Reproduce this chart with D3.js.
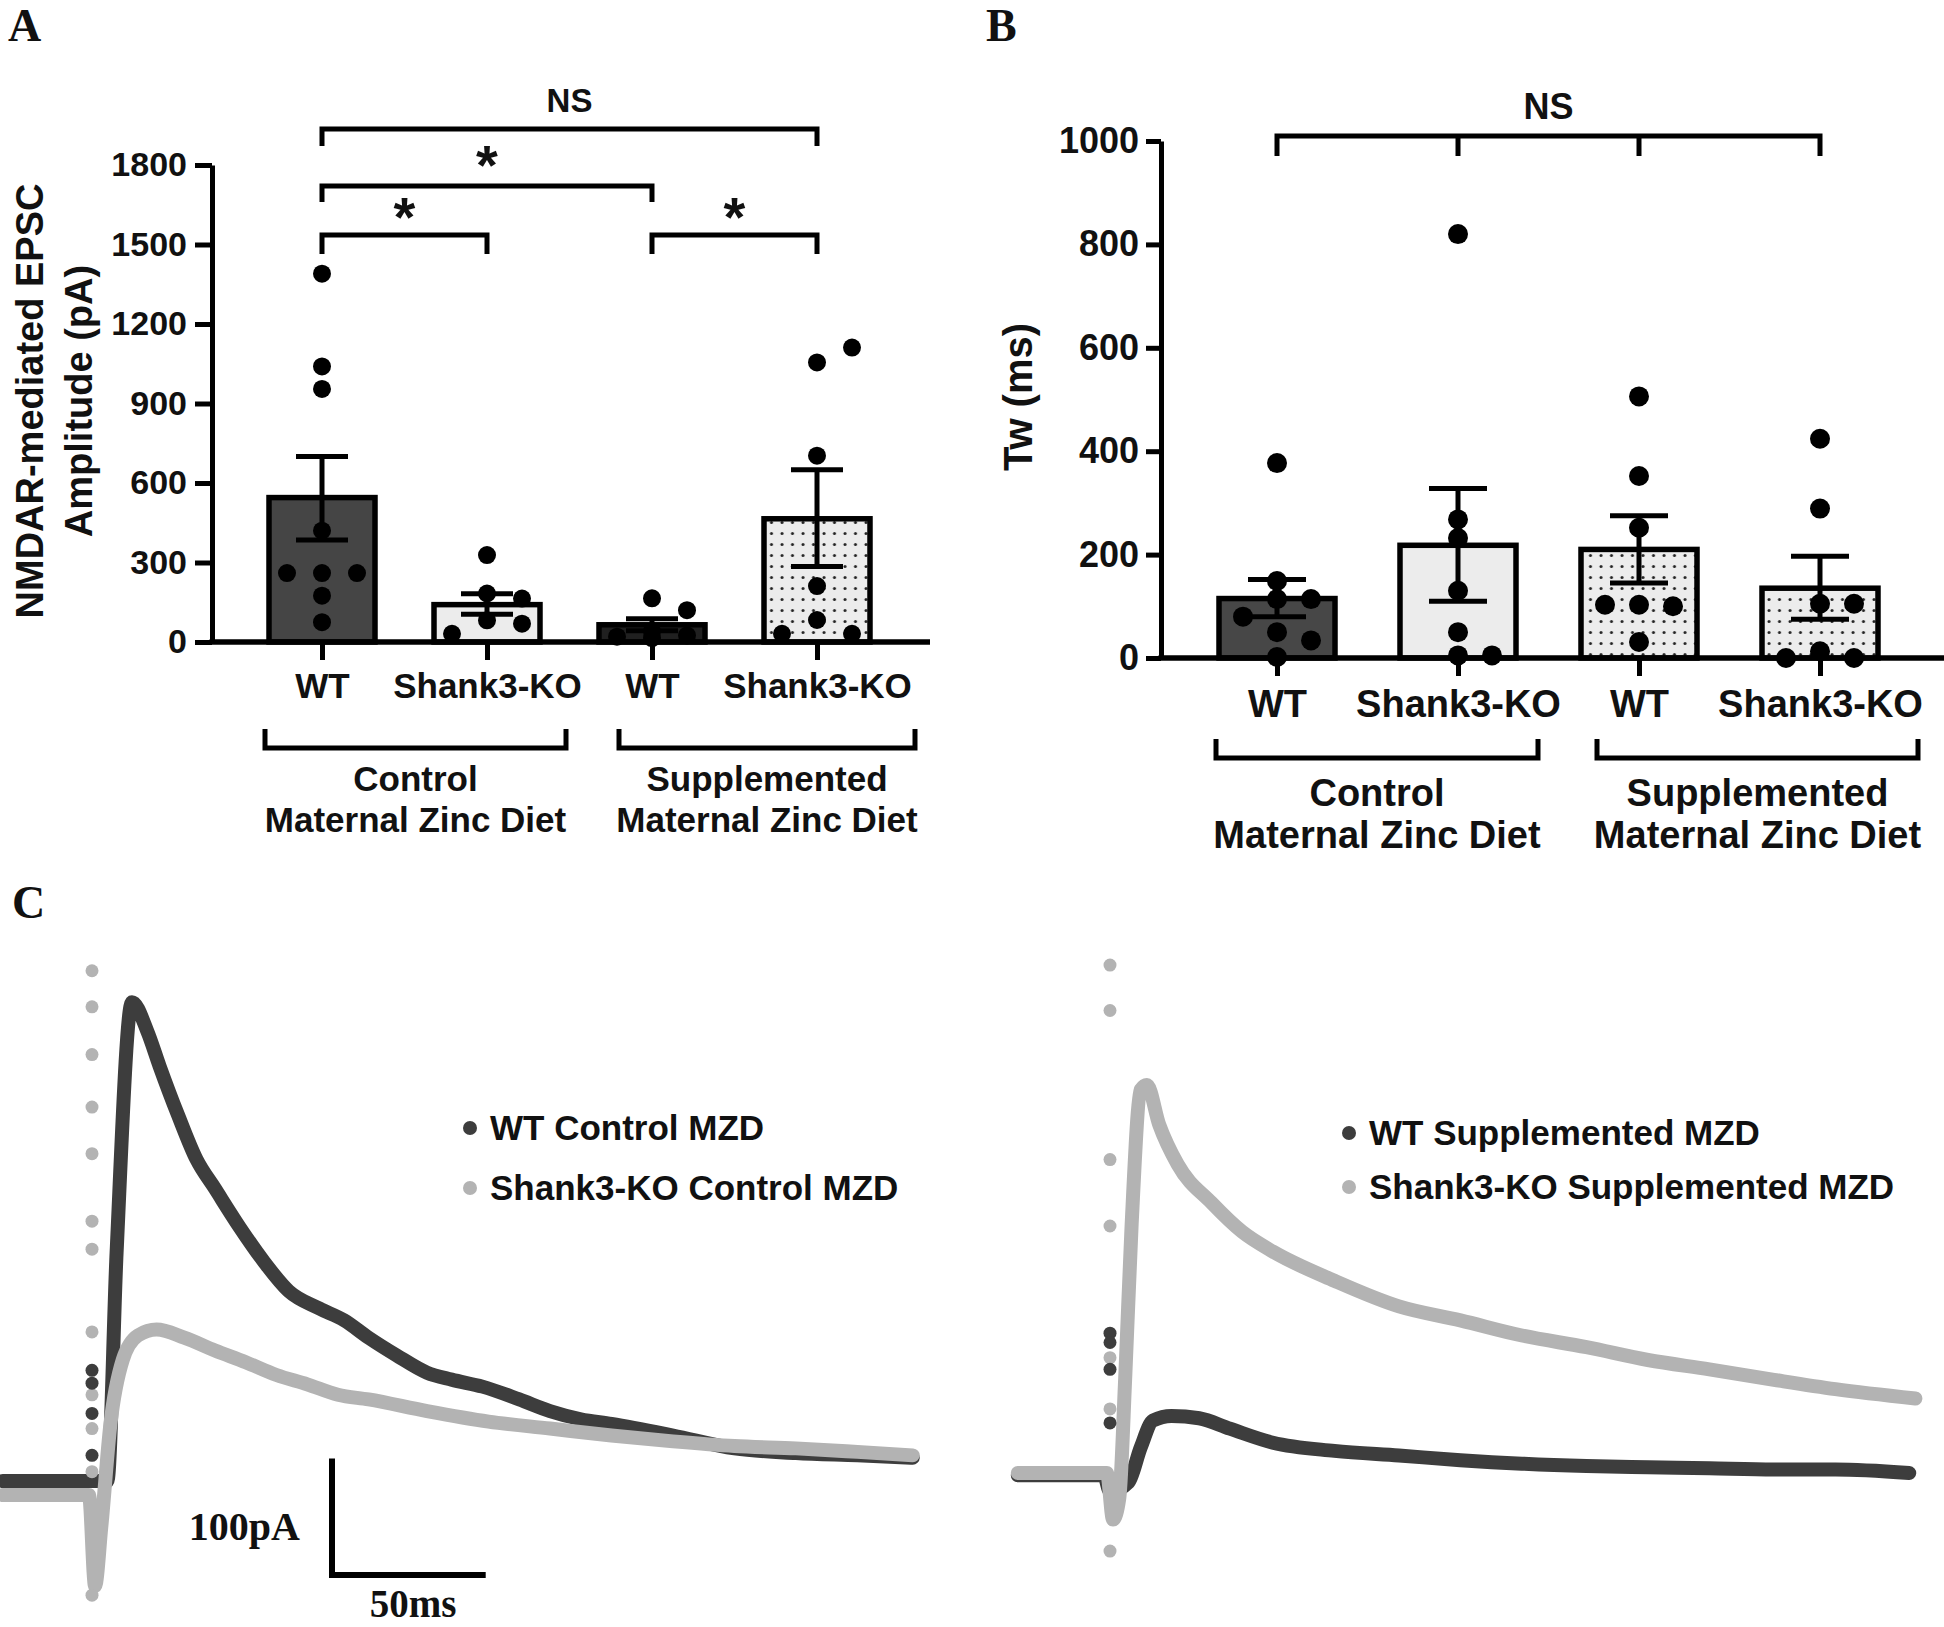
<!DOCTYPE html>
<html>
<head>
<meta charset="utf-8">
<script src="https://cdn.jsdelivr.net/npm/d3@7"></script>
<style>
  body { margin: 0; background: #fff; }
  svg text { font-family: "Liberation Sans", Arial, sans-serif; font-weight: bold; fill: #111; }
  svg text.serif { font-family: "Liberation Serif", "DejaVu Serif", serif; }
</style>
</head>
<body>
<svg id="fig"></svg>
<script>
// ---- data ----
let groups = ["WT", "Shank3-KO", "WT", "Shank3-KO"]
let diets = [["Control", "Maternal Zinc Diet"], ["Supplemented", "Maternal Zinc Diet"]]

// panel A: NMDAR EPSC amplitude (pA)
let amp_ticks = [0, 300, 600, 900, 1200, 1500, 1800]
let amp_means = [545, 141, 65, 465]
let amp_sem = [[385, 700], [105, 182], [42, 88], [285, 650]]
let amp_points = [
    [1390, 1040, 955, 420, 260, 260, 260, 175, 75],
    [328, 183, 164, 82, 69, 31],
    [165, 120, 40, 25, 20, 15],
    [1055, 1111, 703, 211, 83, 31, 31]
]

// panel B: Tw (ms)
let tw_ticks = [0, 200, 400, 600, 800, 1000]
let tw_means = [115, 218, 210, 135]
let tw_sem = [[80, 152], [110, 328], [145, 275], [75, 197]]
let tw_points = [
    [377, 149, 114, 114, 80, 50, 34, 2],
    [820, 268, 232, 130, 50, 5, 5],
    [506, 352, 252, 103, 100, 103, 31],
    [424, 289, 105, 105, 13, 0, 0]
]

// panel C: traces (time in ms from stimulus, current in pA)
let wt_ctrl_ms = [-29, 0, 5, 8, 13, 18, 22, 28, 34, 40, 48, 56, 64, 74, 82, 90, 99, 109, 117, 127, 139, 149, 159, 169, 189, 209, 229, 249, 267]
let wt_ctrl_pA = [0, 0, 0, 196, 411, 386, 356, 314, 276, 251, 218, 188, 163, 148, 138, 123, 108, 93, 87, 81, 70, 60, 53, 49, 39, 28, 24, 22, 20]
let ko_ctrl_ms = [-29, -1, 1, 3, 6, 10, 15, 21, 30, 40, 50, 60, 70, 80, 90, 109, 129, 149, 169, 189, 209, 229, 249, 267]
let ko_ctrl_pA = [-12, -12, -90, -40, 49, 104, 125, 130, 123, 112, 102, 91, 83, 74, 70, 60, 51, 45, 39, 34, 30, 28, 25, 22]
let wt_sup_ms = [-30, -2, 0, 6, 10, 14, 20, 29, 39, 53, 73, 94, 114, 134, 155, 175, 195, 216, 236, 260]
let wt_sup_pA = [-2, -2, -16, -8, 22, 45, 49, 47, 38, 26, 19, 15, 11, 8, 6, 5, 4, 3, 3, 0]
let ko_sup_ms = [-30, -1, 1, 3, 5, 7, 10, 12, 16, 22, 33, 43, 53, 73, 94, 114, 134, 155, 175, 195, 216, 236, 262]
let ko_sup_pA = [0, 0, -40, -22, 85, 211, 329, 333, 299, 265, 232, 207, 190, 165, 143, 131, 118, 108, 97, 89, 80, 72, 64]

// stimulus artifact samples (pA at t = 0)
let art_ctrl_light = [438, 407, 366, 321, 281, 223, 199, 128, 74, 45, 8, -98]
let art_ctrl_dark = [95, 84, 58, 22]
let art_sup_light = [436, 397, 269, 212, 99, 55, -67]
let art_sup_dark = [120, 112, 89, 43]

let legend_ctrl = ["WT Control MZD", "Shank3-KO Control MZD"]
let legend_sup = ["WT Supplemented MZD", "Shank3-KO Supplemented MZD"]
let scale_bar = {pA: 100, ms: 50}

// ---- drawing ----
let W = 1944, H = 1627
let dark = "#3d3d3d", light = "#b3b3b3"

let svg = d3.select("#fig").attr("width", W).attr("height", H)
svg.append("rect").attr("width", W).attr("height", H).attr("fill", "#fff")

let pat = svg.append("defs").append("pattern")
    .attr("id", "dots")
    .attr("patternUnits", "userSpaceOnUse")
    .attr("width", 10.5)
    .attr("height", 11)
pat.append("rect").attr("width", 10.5).attr("height", 11).attr("fill", "#ececec")
pat.append("circle").attr("cx", 5).attr("cy", 5.5).attr("r", 1.5).attr("fill", "#222")

// simple swarm: centre column first, then right, then left
function swarm(vals, y, r, step) {
    let placed = []
    let thr = 1.8 * r
    return vals.map(v => {
        let py = y(v)
        let best = null, bestGap = -1
        for (let k of [0, 1, -1]) {
            let px = k * step
            let gap = d3.min(placed, p => Math.hypot(p[0] - px, p[1] - py))
            if (gap === undefined) gap = Infinity
            if (gap >= thr) { best = px; break }
            if (gap > bestGap) { bestGap = gap; best = px }
        }
        placed.push([best, py])
        return [best, py]
    })
}

function bar_panel(o) {
    let g = svg.append("g")
    let y = d3.scaleLinear().domain(o.domain).range(o.yRange)
    let x = d3.scalePoint().domain(d3.range(groups.length)).range(o.xRange)

    // bars
    g.selectAll(".bar")
        .data(o.means)
        .enter()
        .append("rect")
        .attr("x", (d, i) => x(i) - o.barW / 2)
        .attr("y", d => y(d))
        .attr("width", o.barW)
        .attr("height", d => y(0) - y(d))
        .attr("fill", (d, i) => o.fills[i])
        .attr("stroke", "#000")
        .attr("stroke-width", 5.5)

    // dots
    o.points.forEach((vals, i) => {
        g.selectAll(null)
            .data(swarm(vals, y, o.r, o.step))
            .enter()
            .append("circle")
            .attr("cx", d => x(i) + d[0])
            .attr("cy", d => d[1])
            .attr("r", o.r)
            .attr("fill", "#000")
    })

    // error bars
    o.sem.forEach((s, i) => {
        let cx = x(i)
        g.append("line").attr("x1", cx).attr("x2", cx).attr("y1", y(s[0])).attr("y2", y(s[1]))
        s.forEach(v => {
            g.append("line").attr("x1", cx - o.cap / 2).attr("x2", cx + o.cap / 2).attr("y1", y(v)).attr("y2", y(v))
        })
    })
    g.selectAll("line").attr("stroke", "#000").attr("stroke-width", 5)

    // y axis
    let ya = g.append("g")
        .attr("transform", `translate(${o.axisX},0)`)
        .call(d3.axisLeft(y).tickValues(o.ticks).tickFormat(d3.format("d"))
            .tickSize(o.tick).tickSizeOuter(0).tickPadding(o.pad))
    ya.select(".domain").attr("stroke", "#000").attr("stroke-width", 5)
    ya.selectAll(".tick line").attr("stroke", "#000").attr("stroke-width", 5)
    ya.selectAll(".tick text").attr("font-size", o.tickFont).attr("fill", "#111")

    // x axis
    g.append("line")
        .attr("x1", o.axisX - 2.5).attr("x2", o.axisEnd)
        .attr("y1", y(0)).attr("y2", y(0))
        .attr("stroke", "#000").attr("stroke-width", 5.5)
    let xa = g.append("g")
        .attr("transform", `translate(0,${y(0)})`)
        .call(d3.axisBottom(x).tickSize(18).tickPadding(o.catPad).tickFormat(i => groups[i]))
    xa.select(".domain").remove()
    xa.selectAll(".tick line").attr("stroke", "#000").attr("stroke-width", 5)
    xa.selectAll(".tick text").attr("font-size", o.catFont).attr("fill", "#111")

    // diet brackets
    o.dietSpan.forEach((sp, j) => {
        g.append("path")
            .attr("d", `M${sp[0]},${o.dietTop} V${o.dietY} H${sp[1]} V${o.dietTop}`)
            .attr("fill", "none").attr("stroke", "#000").attr("stroke-width", 5)
        diets[j].forEach((t, k) => {
            g.append("text")
                .attr("x", (sp[0] + sp[1]) / 2)
                .attr("y", o.dietText[k])
                .attr("text-anchor", "middle")
                .attr("font-size", o.catFont)
                .text(t)
        })
    })

    // y title
    let tt = g.append("text")
        .attr("transform", `translate(${o.titleX},${o.titleY}) rotate(-90)`)
        .attr("text-anchor", "middle")
        .attr("font-size", o.titleFont)
    o.title.forEach((t, k) => tt.append("tspan").attr("x", 0).attr("dy", k == 0 ? 0 : o.titleLead).text(t))

    return {x: x, y: y, g: g}
}

let A = bar_panel({
    domain: [0, 1800], yRange: [642, 165], xRange: [322, 817],
    means: amp_means, sem: amp_sem, points: amp_points, ticks: amp_ticks,
    fills: ["#454545", "#ececec", "#202020", "url(#dots)"],
    barW: 106, r: 9, step: 35, cap: 52,
    axisX: 212, axisEnd: 930, tick: 17, pad: 8, tickFont: 34,
    catPad: 13, catFont: 35,
    dietSpan: [[265, 566], [619, 915]], dietY: 748, dietTop: 729, dietText: [791, 832],
    title: ["NMDAR-mediated EPSC", "Amplitude (pA)"], titleX: 43, titleY: 401, titleFont: 38, titleLead: 49
})

let B = bar_panel({
    domain: [0, 1000], yRange: [658, 141], xRange: [1277, 1820],
    means: tw_means, sem: tw_sem, points: tw_points, ticks: tw_ticks,
    fills: ["#474747", "#ececec", "url(#dots)", "url(#dots)"],
    barW: 116, r: 10, step: 34, cap: 58,
    axisX: 1161, axisEnd: 1944, tick: 15, pad: 7, tickFont: 36,
    catPad: 14, catFont: 38,
    dietSpan: [[1216, 1538], [1597, 1918]], dietY: 758, dietTop: 739, dietText: [806, 848],
    title: ["Tw (ms)"], titleX: 1032, titleY: 397, titleFont: 40, titleLead: 0
})

// significance brackets
function sig(p, i0, i1, yLine, drop, label, fs, ly) {
    let x0 = p.x(i0), x1 = p.x(i1)
    p.g.append("path")
        .attr("d", `M${x0},${yLine + drop} V${yLine} H${x1} V${yLine + drop}`)
        .attr("fill", "none").attr("stroke", "#000").attr("stroke-width", 5)
    p.g.append("text")
        .attr("x", (x0 + x1) / 2).attr("y", ly)
        .attr("text-anchor", "middle").attr("font-size", fs)
        .text(label)
}
sig(A, 0, 3, 129, 17, "NS", 33, 112)
sig(A, 0, 2, 186, 16, "*", 56, 184)
sig(A, 0, 1, 235, 19, "*", 56, 236)
sig(A, 2, 3, 235, 19, "*", 56, 236)
sig(B, 0, 3, 136, 20, "NS", 36, 119)
d3.range(1, 3).forEach(i => {
    B.g.append("line")
        .attr("x1", B.x(i)).attr("x2", B.x(i)).attr("y1", 136).attr("y2", 156)
        .attr("stroke", "#000").attr("stroke-width", 5)
})

// ---- panel C traces ----
let pxPerMs = 3.074, pxPerPA = 1.165

function trace_panel(o) {
    let g = svg.append("g")
    let x = d3.scaleLinear().domain([0, 1]).range([o.x0, o.x0 + pxPerMs])
    let y = d3.scaleLinear().domain([0, 1]).range([o.y0, o.y0 - pxPerPA])
    let line = d3.line().x(d => x(d[0])).y(d => y(d[1])).curve(d3.curveMonotoneX)

    o.traces.forEach(t => {
        g.append("path")
            .attr("d", line(d3.zip(t.ms, t.pA)))
            .attr("fill", "none")
            .attr("stroke", t.color)
            .attr("stroke-width", 14)
            .attr("stroke-linecap", "round")
            .attr("stroke-linejoin", "round")
    })

    o.artifacts.forEach(a => {
        g.selectAll(null)
            .data(a.pA)
            .enter()
            .append("circle")
            .attr("cx", x(0))
            .attr("cy", d => y(d))
            .attr("r", 6.5)
            .attr("fill", a.color)
    })

    o.legend.forEach((t, k) => {
        g.append("circle")
            .attr("cx", o.legX).attr("cy", o.legY[k]).attr("r", 7)
            .attr("fill", k == 0 ? dark : light)
        g.append("text")
            .attr("x", o.legX + 20).attr("y", o.legY[k] + 12)
            .attr("font-size", 35)
            .attr("fill", "#1a1a1a")
            .text(t)
    })
    return {x: x, y: y, g: g}
}

let CL = trace_panel({
    x0: 92, y0: 1481,
    traces: [
        {ms: wt_ctrl_ms, pA: wt_ctrl_pA, color: dark},
        {ms: ko_ctrl_ms, pA: ko_ctrl_pA, color: light}
    ],
    artifacts: [{pA: art_ctrl_light, color: light}, {pA: art_ctrl_dark, color: dark}],
    legend: legend_ctrl, legX: 470, legY: [1128, 1188]
})

let CR = trace_panel({
    x0: 1110, y0: 1473,
    traces: [
        {ms: wt_sup_ms, pA: wt_sup_pA, color: dark},
        {ms: ko_sup_ms, pA: ko_sup_pA, color: light}
    ],
    artifacts: [{pA: art_sup_light, color: light}, {pA: art_sup_dark, color: dark}],
    legend: legend_sup, legX: 1349, legY: [1133, 1187]
})

// scale bar, sized through the left trace scales
let sbX = 332, sbY = 1575
let sbW = CL.x(scale_bar.ms) - CL.x(0)
let sbH = CL.y(0) - CL.y(scale_bar.pA)
svg.append("path")
    .attr("d", `M${sbX},${sbY - sbH} V${sbY} H${sbX + sbW}`)
    .attr("fill", "none").attr("stroke", "#000").attr("stroke-width", 6)
svg.append("text").attr("class", "serif")
    .attr("x", 300).attr("y", 1540).attr("text-anchor", "end").attr("font-size", 40)
    .text(scale_bar.pA + "pA")
svg.append("text").attr("class", "serif")
    .attr("x", 413).attr("y", 1617).attr("text-anchor", "middle").attr("font-size", 39)
    .text(scale_bar.ms + "ms")

// panel letters
let letters = [["A", 8, 41], ["B", 986, 41], ["C", 12, 918]]
svg.selectAll(".letter")
    .data(letters)
    .enter()
    .append("text")
    .attr("class", "serif letter")
    .attr("x", d => d[1])
    .attr("y", d => d[2])
    .attr("font-size", 46)
    .text(d => d[0])
</script>
</body>
</html>
